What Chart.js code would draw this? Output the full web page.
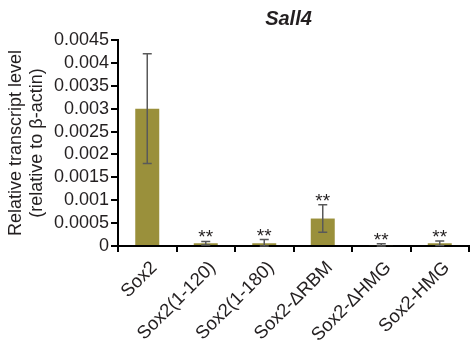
<!DOCTYPE html>
<html>
<head>
<meta charset="utf-8">
<script src="https://cdn.jsdelivr.net/npm/chart.js@4"></script>
<style>
  html, body { margin: 0; padding: 0; background: #fff; }
  #wrap { width: 470px; height: 346px; }
</style>
</head>
<body>
<div id="wrap"><canvas id="c" width="470" height="346"></canvas></div>
<script>
// Sall4 transcript level per Sox2 construct (relative to beta-actin)
const categories = ['Sox2', 'Sox2(1-120)', 'Sox2(1-180)', 'Sox2-\u0394RBM', 'Sox2-\u0394HMG', 'Sox2-HMG'];
const meanLevels = [0.003, 0.00006, 0.00006, 0.0006, 0.00002, 0.00006];
const errorLevels = [0.0012, 0.00004, 0.00008, 0.0003, 0.00003, 0.00005];
const significance = ['', '**', '**', '**', '**', '**'];
const yTickLabels = ['0', '0.0005', '0.001', '0.0015', '0.002', '0.0025', '0.003', '0.0035', '0.004', '0.0045'];
const chartTitle = 'Sall4';

const FONT = '"Liberation Sans", Arial, Helvetica, sans-serif';
const TEXT = '#231f20';

// error bars plus significance marks above each bar
const errorBarPlugin = {
  id: 'errorBars',
  afterDatasetsDraw(chart) {
    const ctx = chart.ctx;
    const y = chart.scales.y;
    const meta = chart.getDatasetMeta(0);
    ctx.save();
    meta.data.forEach((bar, i) => {
      const top = y.getPixelForValue(meanLevels[i] + errorLevels[i]);
      const bottom = y.getPixelForValue(Math.max(0, meanLevels[i] - errorLevels[i]));
      const x = bar.x;
      ctx.strokeStyle = '#595959';
      ctx.lineWidth = 1.5;
      ctx.beginPath();
      ctx.moveTo(x, top); ctx.lineTo(x, bottom);
      ctx.moveTo(x - 4.5, top); ctx.lineTo(x + 4.5, top);
      ctx.moveTo(x - 4.5, bottom); ctx.lineTo(x + 4.5, bottom);
      ctx.stroke();
      if (significance[i]) {
        ctx.fillStyle = TEXT;
        ctx.font = '19px ' + FONT;
        ctx.textAlign = 'center';
        ctx.textBaseline = 'alphabetic';
        ctx.fillText(significance[i], x, top + 2);
      }
    });
    ctx.restore();
  }
};

// italic gene name over the plot area
const titlePlugin = {
  id: 'geneTitle',
  afterDraw(chart) {
    const { ctx, chartArea } = chart;
    ctx.save();
    ctx.fillStyle = TEXT;
    ctx.font = 'italic bold 20px ' + FONT;
    ctx.textAlign = 'center';
    ctx.textBaseline = 'alphabetic';
    ctx.fillText(chartTitle, (chartArea.left + chartArea.right) / 2 - 5, 25);
    ctx.restore();
  }
};

new Chart(document.getElementById('c'), {
  type: 'bar',
  data: {
    labels: categories,
    datasets: [{
      data: meanLevels,
      backgroundColor: '#9a903b',
      borderWidth: 0,
      barPercentage: 1,
      categoryPercentage: 0.41
    }]
  },
  options: {
    responsive: false,
    animation: false,
    layout: { padding: { top: 40, right: 1, left: 0, bottom: 0 } },
    plugins: { legend: { display: false }, tooltip: { enabled: false }, title: { display: false } },
    scales: {
      x: {
        offset: true,
        grid: { offset: true, drawOnChartArea: false, drawTicks: true, tickLength: 6, color: '#000', lineWidth: 2 },
        border: { color: '#000', width: 2 },
        ticks: {
          autoSkip: false, minRotation: 45, maxRotation: 45,
          color: TEXT, font: { family: FONT, size: 18.5 }, padding: 5, labelOffset: 7
        },
        afterFit(scale) { scale.height = 100; }
      },
      y: {
        min: 0,
        max: 0.0045,
        grid: { drawOnChartArea: false, tickLength: 7, color: '#000', lineWidth: 2 },
        border: { color: '#000', width: 2 },
        ticks: {
          autoSkip: false,
          stepSize: 0.0005,
          color: TEXT,
          font: { family: FONT, size: 18 },
          padding: 2,
          callback: (v, i) => yTickLabels[i]
        },
        title: {
          display: true,
          text: ['Relative transcript level', '(relative to \u03b2-actin)'],
          color: TEXT,
          font: { family: FONT, size: 18, lineHeight: 1.15 },
          padding: { top: 6, bottom: 0 }
        },
        afterFit(scale) { scale.width = 118; }
      }
    }
  },
  plugins: [errorBarPlugin, titlePlugin]
});
</script>
</body>
</html>
